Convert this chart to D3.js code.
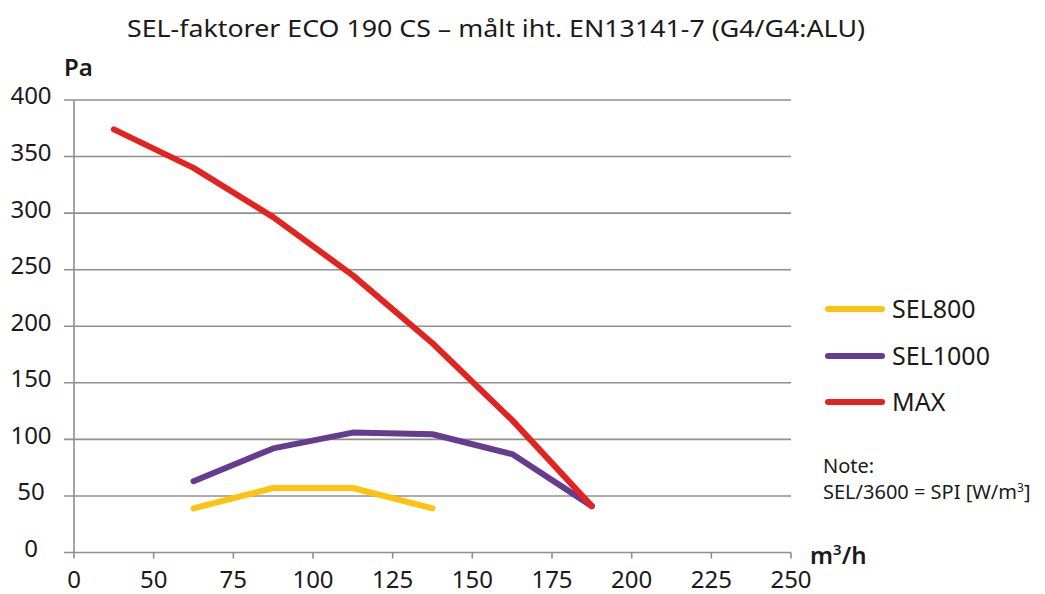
<!DOCTYPE html>
<html><head><meta charset="utf-8">
<script src="https://cdn.jsdelivr.net/npm/d3@7"></script>
<style>
body{margin:0;background:#fff;}
text{font-family:"Noto Sans",sans-serif;fill:#1a1a1a;}
</style></head>
<body><svg id="c" width="1045" height="594"></svg>
<script>
const xTickValues = [25,50,75,100,125,150,175,200,225,250];
const xTickLabels = ["0","50","75","100","125","150","175","200","225","250"];
const yTicks = [0,50,100,150,200,250,300,350,400];
const airflow = [37.5,62.5,87.5,112.5,137.5,162.5,187.5];
const sel800 = [null,39,57,57,39,null,null];
const sel1000 = [null,63,92,106,104.5,87,41];
const maxP = [374,340,296.5,245,185,117,41];
const seriesNames = ["SEL800","SEL1000","MAX"];
const seriesColors = ["#FFC20E","#663C8E","#E3231F"];

const svg = d3.select("#c");
const x = d3.scaleLinear().domain([25,250]).range([74,791]);
const y = d3.scaleLinear().domain([0,400]).range([552.5,100]);

// gridlines
svg.append("g").selectAll("line").data(yTicks.filter(d=>d>0)).join("line")
  .attr("x1",64).attr("x2",791).attr("y1",d=>y(d)).attr("y2",d=>y(d))
  .attr("stroke","#8f8f8f").attr("stroke-width",1.6);
// axes lines
svg.append("line").attr("x1",x(25)).attr("x2",x(25)).attr("y1",y(400)).attr("y2",y(0))
  .attr("stroke","#8f8f8f").attr("stroke-width",1.6);
svg.append("line").attr("x1",64).attr("x2",791).attr("y1",y(0)).attr("y2",y(0))
  .attr("stroke","#8f8f8f").attr("stroke-width",1.6);
svg.append("g").selectAll("line").data(xTickValues).join("line")
  .attr("x1",d=>x(d)).attr("x2",d=>x(d)).attr("y1",y(0)).attr("y2",y(0)+6)
  .attr("stroke","#8f8f8f").attr("stroke-width",1.6);

// y labels
svg.append("g").selectAll("text").data(yTicks).join("text")
  .attr("x",31).attr("y",d=>y(d)-4).attr("dy","0.35em").attr("text-anchor","middle")
  .attr("font-size",24).text(d=>d);
// x labels
svg.append("g").selectAll("text").data(xTickValues).join("text")
  .attr("x",d=>x(d)).attr("y",580).attr("dy","0.35em").attr("text-anchor","middle")
  .attr("font-size",24).text((d,i)=>xTickLabels[i]);

// series
const all = [sel800, sel1000, maxP];
const line = d3.line().defined(d=>d[1]!=null).x(d=>x(d[0])).y(d=>y(d[1]));
all.forEach((s,i)=>{
  svg.append("path").datum(airflow.map((a,j)=>[a,s[j]]))
    .attr("d",line).attr("fill","none").attr("stroke",seriesColors[i])
    .attr("stroke-width",6).attr("stroke-linecap","round").attr("stroke-linejoin","round");
});

// legend
const ly = [309,356,402];
seriesNames.forEach((n,i)=>{
  svg.append("line").attr("x1",828).attr("x2",882).attr("y1",ly[i]).attr("y2",ly[i])
    .attr("stroke",seriesColors[i]).attr("stroke-width",6).attr("stroke-linecap","round");
  svg.append("text").attr("x",892).attr("y",ly[i]).attr("dy","0.35em").attr("font-size",25).text(n);
});

// title and axis titles
svg.append("text").attr("x",127).attr("y",29).attr("dy","0.35em")
  .attr("font-size",24).attr("textLength",738).attr("lengthAdjust","spacingAndGlyphs")
  .text("SEL-faktorer ECO 190 CS – målt iht. EN13141-7 (G4/G4:ALU)");
svg.append("text").attr("x",64).attr("y",68).attr("dy","0.35em").attr("font-size",24).attr("font-weight","600").text("Pa");
const mt = svg.append("text").attr("x",810).attr("y",556).attr("dy","0.35em").attr("font-size",24).attr("font-weight","600");
mt.append("tspan").text("m");
mt.append("tspan").attr("font-size",15).attr("dy",-9).text("3");
mt.append("tspan").attr("dy",9).text("/h");

svg.append("text").attr("x",823).attr("y",466).attr("dy","0.35em").attr("font-size",20).attr("fill","#333").text("Note:");
const nt = svg.append("text").attr("x",823).attr("y",492).attr("dy","0.35em").attr("font-size",20).attr("fill","#333");
nt.append("tspan").text("SEL/3600 = SPI [W/m");
nt.append("tspan").attr("font-size",12).attr("dy",-7).text("3");
nt.append("tspan").attr("dy",7).text("]");
</script></body></html>
